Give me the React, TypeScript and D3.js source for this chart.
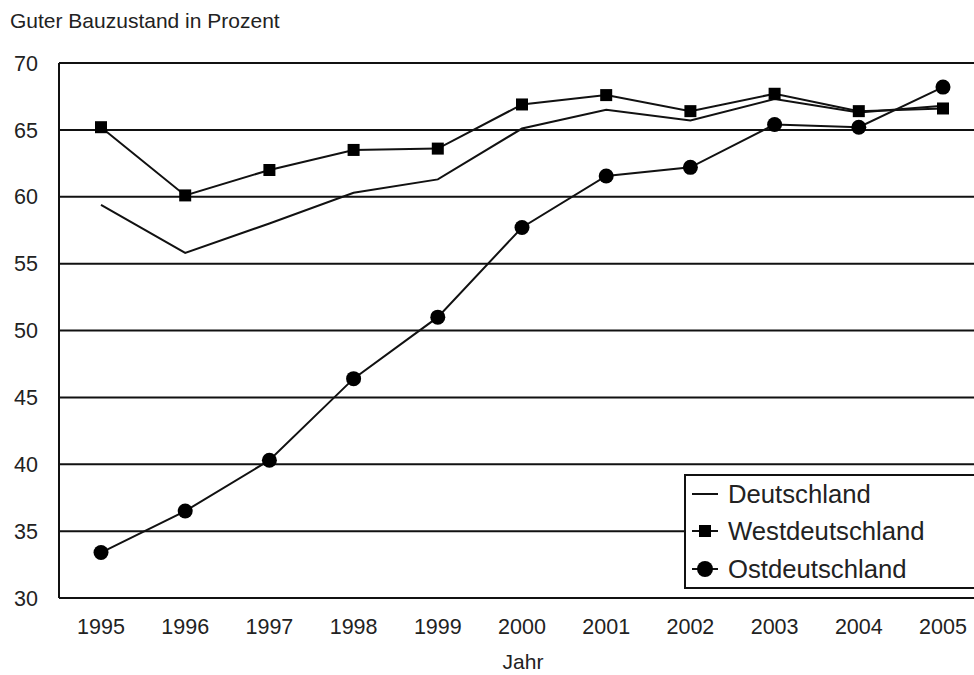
import React from "react";
import * as d3 from "d3";

const years = [1995, 1996, 1997, 1998, 1999, 2000, 2001, 2002, 2003, 2004, 2005];
const deutschland = [59.4, 55.8, 58.0, 60.3, 61.3, 65.1, 66.5, 65.7, 67.3, 66.3, 66.8];
const westdeutschland = [65.2, 60.1, 62.0, 63.5, 63.6, 66.9, 67.6, 66.4, 67.7, 66.4, 66.6];
const ostdeutschland = [33.4, 36.5, 40.3, 46.4, 51.0, 57.7, 61.55, 62.2, 65.4, 65.2, 68.2];
const yTicks = [30, 35, 40, 45, 50, 55, 60, 65, 70];
const legendLabels = ["Deutschland", "Westdeutschland", "Ostdeutschland"];

const W = 974;
const H = 675;
const left = 59;
const top = 63;
const bottom = 598;
const right = 985;

export default function App() {
  const x = d3.scaleLinear().domain([1995, 2005]).range([101, 943]);
  const y = d3.scaleLinear().domain([30, 70]).range([bottom, top]);
  const line = d3
    .line<number>()
    .x((_, i) => x(years[i]))
    .y((d) => y(d));
  const font = "'Liberation Sans', Arial, sans-serif";
  const lx = 685;
  const ly = 475;
  const lh = 113;
  const rowY = [494, 531, 569];
  return (
    <svg
      width={W}
      height={H}
      style={{ position: "absolute", left: 0, top: 0, background: "#fff" }}
      fontFamily={font}
    >
      <rect x={0} y={0} width={W} height={H} fill="#fff" />
      <text x={10} y={28} fontSize={21} fill="#222">
        Guter Bauzustand in Prozent
      </text>
      {yTicks.map((t) => (
        <g key={t}>
          <line x1={left} x2={right} y1={y(t)} y2={y(t)} stroke="#111" strokeWidth={2} />
          <text x={38} y={y(t)} dy="0.36em" textAnchor="end" fontSize={21.5} fill="#222">
            {t}
          </text>
        </g>
      ))}
      <line x1={left} x2={left} y1={top} y2={bottom} stroke="#111" strokeWidth={2} />
      {years.map((yr) => (
        <text key={yr} x={x(yr)} y={634} textAnchor="middle" fontSize={21.5} fill="#222">
          {yr}
        </text>
      ))}
      <text x={523} y={669} textAnchor="middle" fontSize={21} fill="#222">
        Jahr
      </text>
      <path d={line(deutschland) || ""} fill="none" stroke="#111" strokeWidth={2} />
      <path d={line(westdeutschland) || ""} fill="none" stroke="#111" strokeWidth={2} />
      <path d={line(ostdeutschland) || ""} fill="none" stroke="#111" strokeWidth={2} />
      {westdeutschland.map((v, i) => (
        <rect key={"w" + i} x={x(years[i]) - 6} y={y(v) - 6} width={12} height={12} fill="#000" />
      ))}
      {ostdeutschland.map((v, i) => (
        <circle key={"o" + i} cx={x(years[i])} cy={y(v)} r={7.5} fill="#000" />
      ))}
      <rect x={lx} y={ly} width={320} height={lh} fill="#fff" stroke="#111" strokeWidth={2} />
      {legendLabels.map((lab, i) => (
        <g key={lab}>
          <line x1={692} x2={718} y1={rowY[i]} y2={rowY[i]} stroke="#111" strokeWidth={2} />
          {i === 1 && <rect x={699} y={rowY[i] - 6} width={12} height={12} fill="#000" />}
          {i === 2 && <circle cx={705} cy={rowY[i]} r={8} fill="#000" />}
          <text x={728} y={rowY[i]} dy="0.36em" fontSize={25.7} fill="#222">
            {lab}
          </text>
        </g>
      ))}
    </svg>
  );
}
